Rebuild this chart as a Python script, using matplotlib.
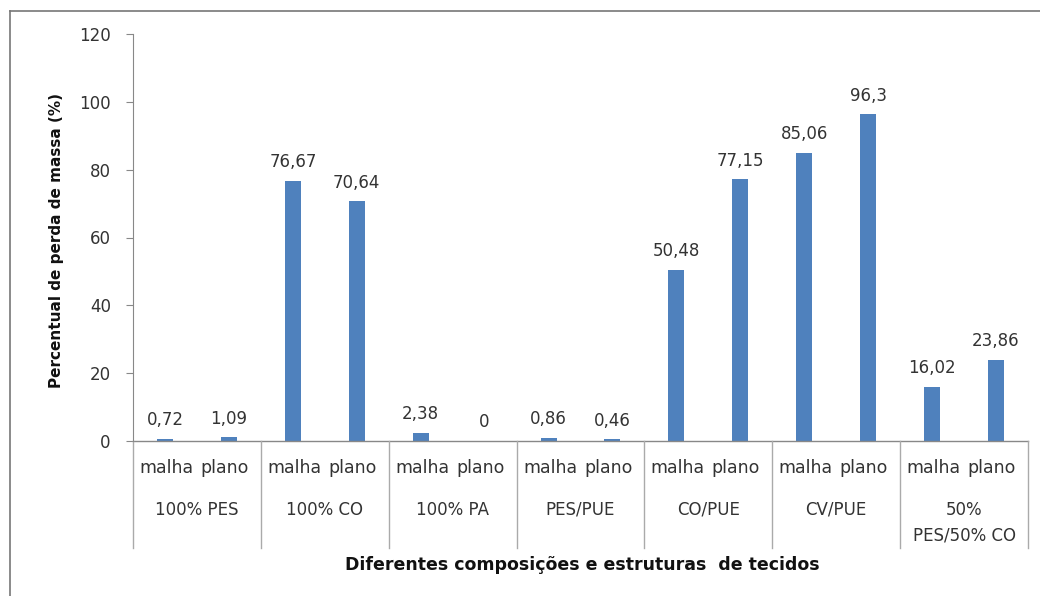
import matplotlib
matplotlib.use("Agg")
import matplotlib.pyplot as plt
from matplotlib.lines import Line2D
from matplotlib.transforms import offset_copy
import numpy as np

groups = ["100% PES", "100% CO", "100% PA", "PES/PUE", "CO/PUE", "CV/PUE", "50%\nPES/50% CO"]
structures = ["malha", "plano"]
values = [0.72, 1.09, 76.67, 70.64, 2.38, 0, 0.86, 0.46, 50.48, 77.15, 85.06, 96.3, 16.02, 23.86]
yticks = [0, 20, 40, 60, 80, 100, 120]

plt.rcParams['font.family'] = ['DejaVu Sans']

W, H = 1040, 596
fig = plt.figure(figsize=(W / 100, H / 100), dpi=100)
ax = fig.add_axes([133 / W, 1 - 441 / H, (1028 - 133) / W, (441 - 34) / H])

TXT = "#333333"
n = len(values)
x = np.arange(n)
bar_color = "#4F81BD"
ax.bar(x, values, width=0.25, color=bar_color)
ax.set_xlim(-0.5, n - 0.5)
ax.set_ylim(0, 120)
ax.set_yticks(yticks)
ax.set_yticklabels([str(t) for t in yticks], fontsize=12, color=TXT)
ax.tick_params(axis='y', direction='out', length=5, color="#888888", pad=11)
ax.set_xticks([])
for s in ['top', 'right', 'bottom']:
    ax.spines[s].set_visible(False)
ax.spines['left'].set_color("#888888")

# x axis line
ax.axhline(0, color="#888888", lw=1, clip_on=False)

def fmt(v):
    return ("%g" % v).replace(".", ",")

for xi, v in zip(x, values):
    ax.annotate(fmt(v), (xi, v), xytext=(0, 7), textcoords="offset points",
                ha="center", va="bottom", fontsize=12, color=TXT)

trans = ax.get_xaxis_transform()

def axfrac(py):
    return (441 - py) / (441 - 34)

# structure labels: "malha" / "plano" set together, centred in each group
for i in range(n):
    g = i // 2
    cx = 2 * g + 0.5
    if i % 2 == 0:
        t = offset_copy(trans, fig=fig, x=-2.5, y=0, units='points')
        ha = "right"
    else:
        t = offset_copy(trans, fig=fig, x=2.5, y=0, units='points')
        ha = "left"
    ax.text(cx, axfrac(468), structures[i % 2], transform=t, ha=ha, va="center",
            fontsize=12.5, color=TXT, clip_on=False)

for g, name in enumerate(groups):
    cx = 2 * g + 0.5
    if "\n" in name:
        l1, l2 = name.split("\n")
        ax.text(cx, axfrac(510), l1, transform=trans, ha="center", va="center",
                fontsize=12, color=TXT, clip_on=False)
        ax.text(cx, axfrac(535), l2, transform=trans, ha="center", va="center",
                fontsize=12, color=TXT, clip_on=False)
    else:
        ax.text(cx, axfrac(510), name, transform=trans, ha="center", va="center",
                fontsize=12, color=TXT, clip_on=False)

# group separators
for b in range(len(groups) + 1):
    xb = 2 * b - 0.5
    ax.add_line(Line2D([xb, xb], [0, axfrac(548)], transform=trans, color="#AAAAAA",
                       lw=1, clip_on=False))

# axis titles
fig.text(582 / W, 1 - 565 / H, "Diferentes composições e estruturas  de tecidos",
         ha="center", va="center", fontsize=12.5, fontweight="bold", color="#111111")
fig.text(57 / W, 1 - 240 / H, "Percentual de perda de massa (%)", rotation=90,
         ha="center", va="center", fontsize=11, fontweight="bold", color="#111111")

# outer border (left and top)
fig.add_artist(Line2D([10 / W, 10 / W], [0, 1 - 11 / H], transform=fig.transFigure,
                      color="#777777", lw=1.2))
fig.add_artist(Line2D([10 / W, 1], [1 - 11 / H, 1 - 11 / H], transform=fig.transFigure,
                      color="#777777", lw=1.2))

fig.savefig("out.png", dpi=100)
